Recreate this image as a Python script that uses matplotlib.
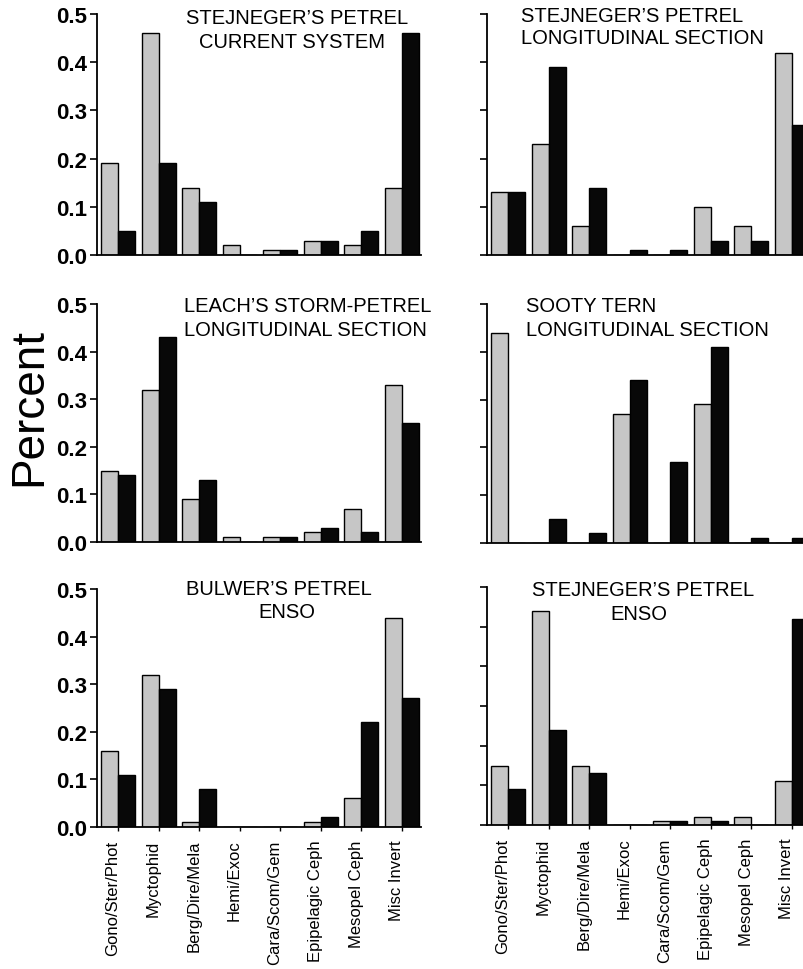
import matplotlib
matplotlib.use("Agg")
import matplotlib.pyplot as plt
import matplotlib.transforms as mtransforms
import numpy as np

plt.rcParams['font.family'] = ['Liberation Sans', 'DejaVu Sans']

categories = ["Gono/Ster/Phot", "Myctophid", "Berg/Dire/Mela", "Hemi/Exoc",
              "Cara/Scom/Gem", "Epipelagic Ceph", "Mesopel Ceph", "Misc Invert"]

stej_current_gray = [0.19, 0.46, 0.14, 0.02, 0.01, 0.03, 0.02, 0.14]
stej_current_black = [0.05, 0.19, 0.11, 0.0, 0.01, 0.03, 0.05, 0.46]
stej_long_gray = [0.13, 0.23, 0.06, 0.0, 0.0, 0.10, 0.06, 0.42]
stej_long_black = [0.13, 0.39, 0.14, 0.01, 0.01, 0.03, 0.03, 0.27]
leach_long_gray = [0.15, 0.32, 0.09, 0.01, 0.01, 0.02, 0.07, 0.33]
leach_long_black = [0.14, 0.43, 0.13, 0.0, 0.01, 0.03, 0.02, 0.25]
sooty_long_gray = [0.44, 0.0, 0.0, 0.27, 0.0, 0.29, 0.0, 0.0]
sooty_long_black = [0.0, 0.05, 0.02, 0.34, 0.17, 0.41, 0.01, 0.01]
bulwer_enso_gray = [0.16, 0.32, 0.01, 0.0, 0.0, 0.01, 0.06, 0.44]
bulwer_enso_black = [0.11, 0.29, 0.08, 0.0, 0.0, 0.02, 0.22, 0.27]
stej_enso_gray = [0.15, 0.54, 0.15, 0.0, 0.01, 0.02, 0.02, 0.11]
stej_enso_black = [0.09, 0.24, 0.13, 0.0, 0.01, 0.01, 0.0, 0.52]

yticks_std = [0.0, 0.1, 0.2, 0.3, 0.4, 0.5]
ytick_labels = ["0.0", "0.1", "0.2", "0.3", "0.4", "0.5"]
yticks_enso = [0.0, 0.1, 0.2, 0.3, 0.4, 0.5, 0.6]

W, H = 804, 970
fig = plt.figure(figsize=(W / 100, H / 100), dpi=100)

GRAY = "#c6c6c6"
BLACK = "#080808"
BW = 0.42


def add_panel(px_left, px_top, px_bottom, gray, black, ylim, yticks,
              show_ylabels, show_xlabels, title1, title2, t_pos):
    ax = fig.add_axes([px_left / W, 1 - px_bottom / H, 324 / W,
                       (px_bottom - px_top) / H])
    x = np.arange(len(categories))
    ax.bar(x - BW / 2, gray, width=BW, color=GRAY, edgecolor="black", linewidth=1.0)
    ax.bar(x + BW / 2, black, width=BW, color=BLACK, edgecolor="black", linewidth=1.0)
    ax.set_xlim(-0.52, 7.48)
    ax.set_ylim(*ylim)
    ax.set_yticks(yticks)
    if show_ylabels:
        ax.set_yticklabels(ytick_labels, fontsize=16, fontweight="bold")
    else:
        ax.set_yticklabels([])
    ax.tick_params(axis="y", direction="out", length=5, width=1.2, pad=2)
    ax.set_xticks(x)
    if show_xlabels:
        ax.set_xticklabels(categories, rotation=90, fontsize=12, va="top", ha="center")
        ax.tick_params(axis="x", direction="out", length=3, width=1.0, pad=6)
        shift = mtransforms.ScaledTranslation(-5 / 100, 0, fig.dpi_scale_trans)
        for lab in ax.get_xticklabels():
            lab.set_transform(lab.get_transform() + shift)
    else:
        ax.set_xticklabels([])
        ax.tick_params(axis="x", length=0)
    for s in ["top", "right"]:
        ax.spines[s].set_visible(False)
    for s in ["left", "bottom"]:
        ax.spines[s].set_linewidth(1.3)
    (x1, y1, ha1), (x2, y2, ha2) = t_pos
    fig.text(x1 / W, 1 - y1 / H, title1, fontsize=14.5, ha=ha1, va="center")
    fig.text(x2 / W, 1 - y2 / H, title2, fontsize=14.5, ha=ha2, va="center")
    return ax


add_panel(97, 15, 256, stej_current_gray, stej_current_black, (0, 0.5), yticks_std,
          True, False, "STEJNEGER\u2019S PETREL", "CURRENT SYSTEM",
          ((297, 19, "center"), (292, 42, "center")))
add_panel(487, 15, 256, stej_long_gray, stej_long_black, (0, 0.5), yticks_std,
          False, False, "STEJNEGER\u2019S PETREL", "LONGITUDINAL SECTION",
          ((521, 17, "left"), (521, 39, "left")))
add_panel(97, 305, 543, leach_long_gray, leach_long_black, (0, 0.5), yticks_std,
          True, False, "LEACH\u2019S STORM-PETREL", "LONGITUDINAL SECTION",
          ((184, 307, "left"), (184, 331, "left")))
add_panel(487, 305, 544, sooty_long_gray, sooty_long_black, (0, 0.5), yticks_std,
          False, False, "SOOTY TERN", "LONGITUDINAL SECTION",
          ((526, 306, "left"), (526, 331, "left")))
add_panel(97, 590, 828, bulwer_enso_gray, bulwer_enso_black, (0, 0.5), yticks_std,
          True, True, "BULWER\u2019S PETREL", "ENSO",
          ((279, 590, "center"), (287, 613, "center")))
add_panel(487, 588, 826, stej_enso_gray, stej_enso_black, (0, 0.6), yticks_enso,
          False, True, "STEJNEGER\u2019S PETREL", "ENSO",
          ((643, 591, "center"), (639, 615, "center")))

fig.text(29.5 / W, 1 - 407 / H, "Percent", rotation=90, fontsize=33,
         ha="center", va="center")

fig.savefig("out.png", dpi=100)
